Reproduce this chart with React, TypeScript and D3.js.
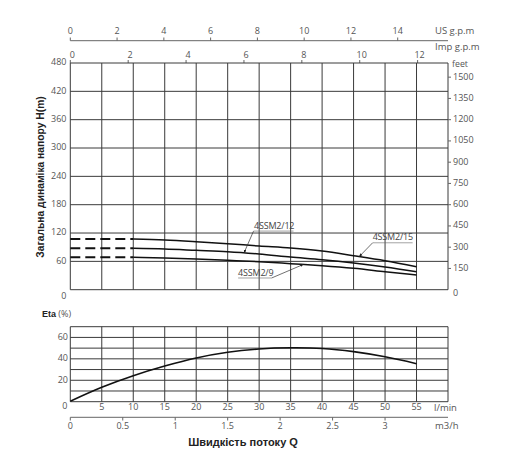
import React from "react";
import * as d3 from "d3";

// ---- data ----
const flowLpm = [10, 15, 20, 25, 30, 35, 40, 45, 50, 55];
const head15 = [107.3, 105.2, 101.6, 97.4, 92.5, 88.3, 81.9, 72, 61.4, 48.7];
const head12 = [87.7, 86.2, 83.4, 80.5, 75.6, 69.2, 63.5, 56.5, 48.1, 38.1];
const head9 = [68.6, 67.1, 65, 62.3, 59.3, 55.1, 50.8, 45.3, 38.1, 31.1];
const seriesNames = ["4SSM2/15", "4SSM2/12", "4SSM2/9"];
const dashedFlow = [0, 10];

const etaFlow = [0, 5, 10, 15, 20, 25, 30, 35, 40, 45, 50, 55];
const etaValues = [0.5, 13.5, 24.3, 33.3, 40.8, 46.1, 49.2, 50.3, 49.7, 46.7, 41.9, 35.5];

const headTicks = [0, 60, 120, 180, 240, 300, 360, 420, 480];
const feetTicks = [0, 150, 300, 450, 600, 750, 900, 1050, 1200, 1350, 1500];
const usGpmTicks = [0, 2, 4, 6, 8, 10, 12, 14];
const impGpmTicks = [0, 2, 4, 6, 8, 10, 12];
const lpmGrid = [0, 5, 10, 15, 20, 25, 30, 35, 40, 45, 50, 55, 60];
const lpmLabels = [5, 10, 15, 20, 25, 30, 35, 40, 45, 50, 55];
const m3hTicks = [0, 0.5, 1, 1.5, 2, 2.5, 3];
const etaGrid = [0, 10, 20, 30, 40, 50, 60, 70];
const etaLabels = [0, 20, 40, 60];

// annotation anchors (flow in l/min where the leader touches the curve)
const annotFlow = [45.9, 27.6, 37];

const FONT = "'Open Sans', 'DejaVu Sans', sans-serif";
const BOLD = "'Liberation Sans', Arial, sans-serif";
const TXT = "#555";
const GRID = "#3a3a3a";

export default function App() {
  const x = d3.scaleLinear().domain([0, 60]).range([70.3, 448]);
  const yH = d3.scaleLinear().domain([0, 480]).range([289.7, 63]);
  const yFt = d3.scaleLinear().domain([0, 1600]).range([289.7, 63]);
  const xUs = d3.scaleLinear().domain([0, 16.15]).range([70.3, 448]);
  const xImp = d3.scaleLinear().domain([0, 13.05]).range([70.3, 448]);
  const xM3 = d3.scaleLinear().domain([0, 3.6]).range([70.3, 448]);
  const yE = d3.scaleLinear().domain([0, 70]).range([401.7, 326.7]);

  const heads = [head15, head12, head9];
  const line = d3
    .line<[number, number]>()
    .x((d) => x(d[0]))
    .y((d) => yH(d[1]))
    .curve(d3.curveMonotoneX);
  const etaLine = d3
    .line<[number, number]>()
    .x((d) => x(d[0]))
    .y((d) => yE(d[1]))
    .curve(d3.curveCatmullRom);

  const interp = (arr: number[], f: number) => {
    const s = d3.scaleLinear().domain(flowLpm).range(arr);
    return s(f);
  };

  // label offsets relative to leader tip (style)
  const annot = [
    { dx1: 13.4, dy1: -13.8, tx: 13.4, ty: -16.5, w: 40 },
    { dx1: 9.5, dy1: -21.8, tx: 10, ty: -23.5, w: 40 },
    { dx1: -31.6, dy1: 13.5, tx: -65, ty: 11.5, w: 33.5 },
  ];

  const topL = x(0), topR = x(60);

  return (
    <svg
      width={512}
      height={475}
      style={{ position: "absolute", left: 0, top: 0, background: "#fff" }}
      fontFamily={FONT}
    >
      <defs>
        <marker id="arr" viewBox="0 0 10 10" refX="9" refY="5" markerWidth="5" markerHeight="5" orient="auto">
          <path d="M0,1 L10,5 L0,9 z" fill="#222" />
        </marker>
      </defs>

      {/* US gpm axis */}
      <line x1={topL} x2={topR} y1={40.7} y2={40.7} stroke="#666" strokeWidth={1} />
      {usGpmTicks.map((t) => (
        <g key={"us" + t}>
          <line x1={xUs(t)} x2={xUs(t)} y1={40.7} y2={37.5} stroke="#666" />
          <text x={xUs(t)} y={32} textAnchor="middle" dominantBaseline="middle" fontSize={9} fill={TXT}>
            {t}
          </text>
        </g>
      ))}
      <text x={435} y={31} dominantBaseline="middle" fontSize={9.5} fill={TXT}>US g.p.m</text>

      {/* Imp gpm axis (top edge of plot) */}
      {impGpmTicks.map((t) => (
        <g key={"imp" + t}>
          <line x1={xImp(t)} x2={xImp(t)} y1={63} y2={60} stroke="#666" />
          <text x={xImp(t) + 2} y={56} textAnchor="middle" dominantBaseline="middle" fontSize={9} fill={TXT}>
            {t}
          </text>
        </g>
      ))}
      <text x={435} y={47} dominantBaseline="middle" fontSize={9.5} fill={TXT}>Imp g.p.m</text>

      {/* head grid */}
      {headTicks.map((t) => (
        <line key={"hg" + t} x1={topL} x2={topR} y1={yH(t)} y2={yH(t)} stroke={GRID} strokeWidth={1} />
      ))}
      {lpmGrid.map((t) => (
        <line key={"vg" + t} x1={x(t)} x2={x(t)} y1={yH(0)} y2={yH(480)} stroke={GRID} strokeWidth={1} />
      ))}
      {headTicks.map((t) => (
        <text
          key={"hl" + t}
          x={66.5}
          y={yH(t) + (t === 0 ? 6.5 : 0)}
          textAnchor="end"
          dominantBaseline="middle"
          fontSize={9}
          fill={TXT}
        >
          {t}
        </text>
      ))}
      {feetTicks.map((t) => (
        <g key={"ft" + t}>
          {t > 0 && <line x1={topR} x2={topR + 3} y1={yFt(t)} y2={yFt(t)} stroke="#666" />}
          <text x={453} y={yFt(t) + (t === 0 ? 4 : 0)} dominantBaseline="middle" fontSize={9} fill={TXT}>
            {t}
          </text>
        </g>
      ))}
      <text x={452} y={65} dominantBaseline="middle" fontSize={8.8} fill={TXT}>feet</text>

      <text
        transform={`translate(41,${177}) rotate(-90)`}
        textAnchor="middle"
        dominantBaseline="middle"
        fontFamily={BOLD}
        fontWeight="bold"
        fontSize={10.3}
        fill="#222"
      >
        Загальна динаміка напору H(m)
      </text>

      {/* head curves */}
      {heads.map((h, i) => (
        <g key={"c" + i}>
          <path
            d={line(dashedFlow.map((f) => [f, h[0]] as [number, number])) || ""}
            fill="none"
            stroke="#111"
            strokeWidth={2}
            strokeDasharray="10,5"
          />
          <path
            d={line(flowLpm.map((f, j) => [f, h[j]] as [number, number])) || ""}
            fill="none"
            stroke="#111"
            strokeWidth={1.5}
          />
        </g>
      ))}

      {/* annotations */}
      {seriesNames.map((name, i) => {
        const f = annotFlow[i];
        const px = x(f);
        const py = yH(interp(heads[i], f));
        const a = annot[i];
        const sx = px + a.dx1;
        const sy = py + a.dy1;
        const tx = px + a.tx;
        const ty = py + a.ty;
        const ux0 = i === 2 ? sx - a.w : sx;
        return (
          <g key={"a" + i}>
            <line x1={sx} y1={sy} x2={px} y2={py} stroke="#333" strokeWidth={0.7} markerEnd="url(#arr)" />
            <line x1={ux0} x2={ux0 + a.w} y1={sy} y2={sy} stroke="#666" strokeWidth={0.6} />
            <text x={i === 2 ? ux0 : tx} y={ty} fontSize={9} fill="#444" letterSpacing={-0.2}>
              {name}
            </text>
          </g>
        );
      })}

      {/* efficiency chart */}
      <text x={42} y={314.5} dominantBaseline="middle" fontSize={9} fill="#222">
        <tspan fontFamily={BOLD} fontWeight="bold">Eta</tspan>
        <tspan fill={TXT}> (%)</tspan>
      </text>
      {etaGrid.map((t) => (
        <line key={"eg" + t} x1={topL} x2={topR} y1={yE(t)} y2={yE(t)} stroke={GRID} strokeWidth={1} />
      ))}
      {lpmGrid.map((t) => (
        <line key={"evg" + t} x1={x(t)} x2={x(t)} y1={yE(0)} y2={yE(70)} stroke={GRID} strokeWidth={1} />
      ))}
      {etaLabels.map((t) => (
        <text
          key={"el" + t}
          x={t === 0 ? 67.5 : 68}
          y={yE(t) + (t === 0 ? 5 : 0)}
          textAnchor="end"
          dominantBaseline="middle"
          fontSize={9}
          fill={TXT}
        >
          {t}
        </text>
      ))}
      <path
        d={etaLine(etaFlow.map((f, j) => [f, etaValues[j]] as [number, number])) || ""}
        fill="none"
        stroke="#111"
        strokeWidth={1.6}
      />
      {lpmLabels.map((t) => (
        <text key={"ll" + t} x={x(t)} y={407.5} textAnchor="middle" dominantBaseline="middle" fontSize={9} fill={TXT}>
          {t}
        </text>
      ))}
      <text x={434} y={408.5} dominantBaseline="middle" fontSize={9.5} fill={TXT}>l/min</text>

      {/* m3/h axis */}
      <line x1={topL} x2={topR} y1={417.3} y2={417.3} stroke="#666" strokeWidth={1} />
      {m3hTicks.map((t) => (
        <g key={"m3" + t}>
          <line x1={xM3(t)} x2={xM3(t)} y1={417.3} y2={420.5} stroke="#666" />
          <text x={xM3(t)} y={427} textAnchor="middle" dominantBaseline="middle" fontSize={9} fill={TXT}>
            {t}
          </text>
        </g>
      ))}
      <text x={435} y={426.5} dominantBaseline="middle" fontSize={9.5} fill={TXT}>m3/h</text>

      <text
        x={243}
        y={443}
        textAnchor="middle"
        dominantBaseline="middle"
        fontFamily={BOLD}
        fontWeight="bold"
        fontSize={11}
        fill="#222"
      >
        Швидкість потоку Q
      </text>
    </svg>
  );
}
